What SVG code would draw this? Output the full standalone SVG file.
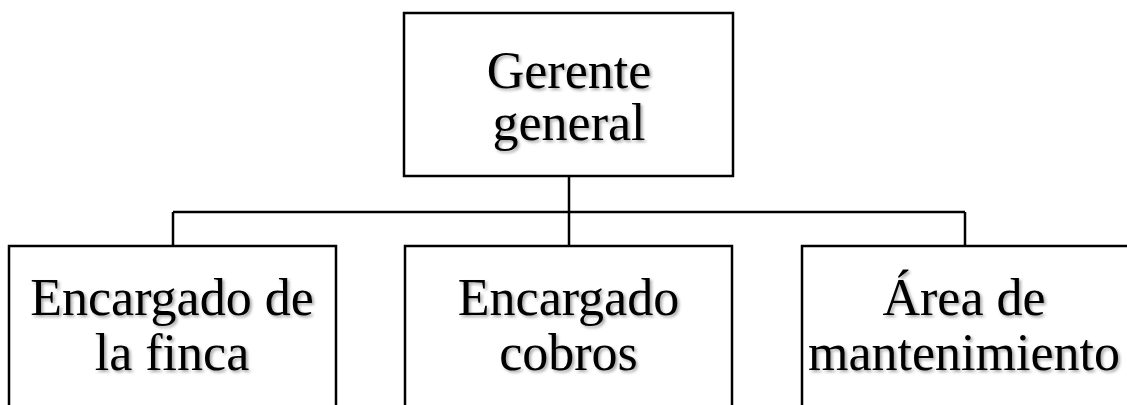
<svg xmlns="http://www.w3.org/2000/svg" width="1127" height="405" viewBox="0 0 1127 405">
<defs>
<filter id="sh" x="-10%" y="-20%" width="130%" height="150%">
<feDropShadow dx="2" dy="2" stdDeviation="1.5" flood-color="#000" flood-opacity="0.35"/>
</filter>
</defs>
<style>
.box{fill:#fff;stroke:#000;stroke-width:2.5}
.lbl{font-family:"Liberation Serif","Times New Roman",serif;font-size:52px;fill:#000;text-anchor:middle;filter:url(#sh)}
.con{fill:none;stroke:#000;stroke-width:2.5}
</style>
<rect width="1127" height="405" fill="#fff"/>
<g id="connectors">
<path class="con" d="M569,176 V212 M173,212 H965 M173,212 V246 M569,212 V246 M965,212 V246"/>
</g>
<g id="gerente">
<rect class="box" x="404" y="13" width="329" height="163"/>
<text class="lbl" x="569" y="88">Gerente</text>
<text class="lbl" x="569" y="140">general</text>
</g>
<g id="finca">
<rect class="box" x="9" y="246" width="327" height="200"/>
<text class="lbl" x="172" y="315">Encargado de</text>
<text class="lbl" x="172" y="370">la finca</text>
</g>
<g id="cobros">
<rect class="box" x="405" y="246" width="327" height="200"/>
<text class="lbl" x="568.5" y="315">Encargado</text>
<text class="lbl" x="568.5" y="370">cobros</text>
</g>
<g id="mantenimiento">
<rect class="box" x="802" y="246" width="340" height="200"/>
<text class="lbl" x="964" y="315">Área de</text>
<text class="lbl" x="964" y="370">mantenimiento</text>
</g>
</svg>
